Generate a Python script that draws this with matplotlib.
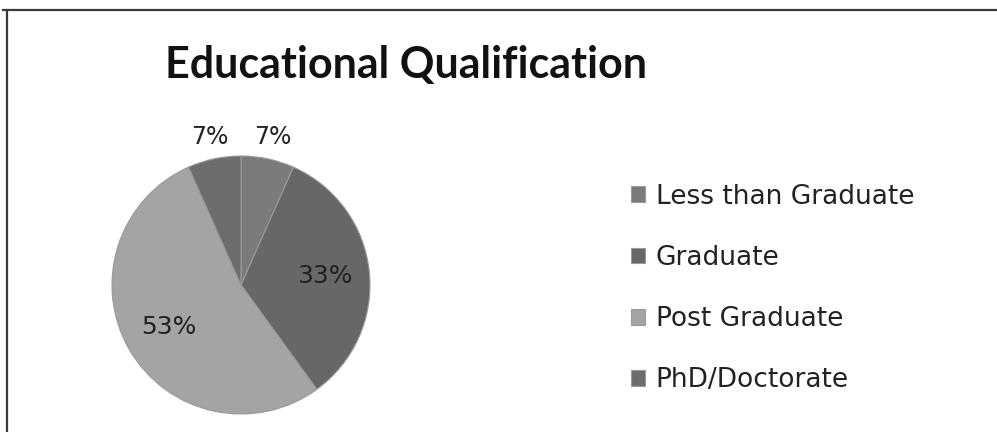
import matplotlib.pyplot as plt
from matplotlib.lines import Line2D
import numpy as np

# data
categories = ['Less than Graduate', 'Graduate', 'Post Graduate', 'PhD/Doctorate']
counts = [1, 5, 8, 1]
colors = ['#7b7b7b', '#676767', '#a4a4a4', '#6d6d6d']
title = 'Educational Qualification'

W, H = 997, 432
fig = plt.figure(figsize=(W / 100, H / 100), dpi=100)

# pie: center (241, 285) px, radius 129 px
cx, cy, r = 241, 285, 129
ax = fig.add_axes([(cx - r) / W, (H - cy - r) / H, 2 * r / W, 2 * r / H])
wedges, texts, autotexts = ax.pie(
    counts, colors=colors, startangle=90, counterclock=False,
    autopct='%.0f%%', pctdistance=0.65,
    wedgeprops=dict(edgecolor='#9a9a9a', linewidth=0.8),
    textprops=dict(fontsize=18, color='#222222', family='DejaVu Sans'))
ax.set_xlim(-1, 1)
ax.set_ylim(-1, 1)
ax.set_aspect('auto')

# small slices: put their labels outside, above the pie
total = sum(counts)
for w, t, c in zip(wedges, autotexts, counts):
    if c / total < 0.1:
        ang = np.deg2rad((w.theta1 + w.theta2) / 2)
        t.set_position((1.17 * np.cos(ang), 1.17 * np.sin(ang)))
        t.set_fontsize(17)

fig.text(165 / W, 1 - 78 / H, title, fontsize=31, fontweight='bold',
         family='Lato', color='#111111', va='baseline', ha='left')

leg = fig.legend(wedges, categories, loc='upper left',
                 bbox_to_anchor=(607 / W, 1 - 160 / H),
                 frameon=False, labelspacing=1.33,
                 handlelength=0.55, handleheight=0.55, handletextpad=0.4,
                 prop=dict(family='DejaVu Sans', size=19))
for t in leg.get_texts():
    t.set_color('#222222')

# frame lines (top and left)
fig.add_artist(Line2D([3 / W, 1], [1 - 9.5 / H, 1 - 9.5 / H], color='#3a3a3a', lw=1.6))
fig.add_artist(Line2D([7 / W, 7 / W], [0, 1 - 9.5 / H], color='#3a3a3a', lw=1.6))

plt.savefig('out.png', dpi=100)
